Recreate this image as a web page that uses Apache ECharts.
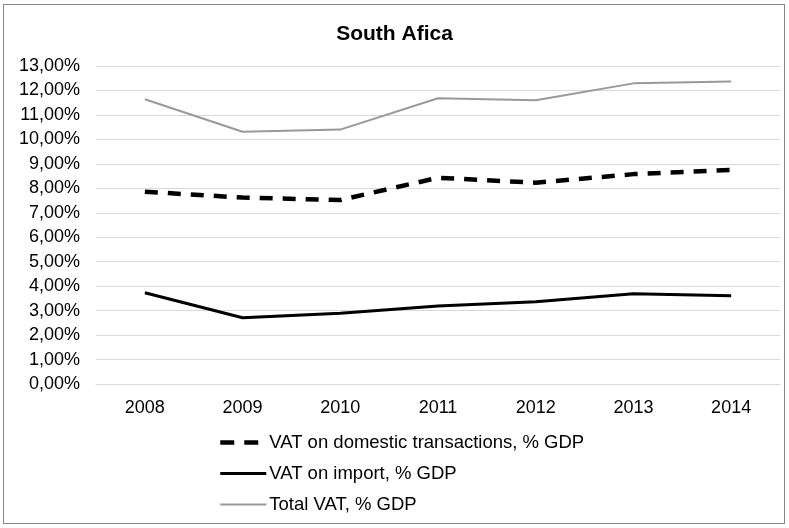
<!DOCTYPE html>
<html>
<head>
<meta charset="utf-8">
<script src="https://cdn.jsdelivr.net/npm/echarts@6/dist/echarts.min.js"></script>
<style>
html,body{margin:0;padding:0;background:#fff;}
#frame{position:absolute;left:3px;top:4px;width:782px;height:520px;border:1px solid #888;box-sizing:border-box;}
#chart{position:absolute;left:0;top:0;width:789px;height:528px;}
</style>
</head>
<body>
<div id="frame"></div>
<div id="chart"></div>
<script>
var years = ['2008','2009','2010','2011','2012','2013','2014'];
var domestic = [7.86, 7.62, 7.52, 8.43, 8.23, 8.58, 8.75];
var imports = [3.73, 2.71, 2.89, 3.19, 3.36, 3.69, 3.61];
var total = [11.64, 10.31, 10.40, 11.68, 11.60, 12.29, 12.37];
var names = ['VAT on domestic transactions, % GDP', 'VAT on import, % GDP', 'Total VAT, % GDP'];

function pct(v){
    return v.toFixed(2).replace('.', ',') + '%';
}

window.onload = function(){
var chart = echarts.init(document.getElementById('chart'));
var option = {
    animation: false,
    textStyle: {fontFamily: 'Liberation Sans, Arial, sans-serif'},
    title: {
        text: 'South Afica',
        left: 'center',
        top: 19,
        textStyle: {fontSize: 21, fontWeight: 'bold', color: '#000', fontFamily: 'Liberation Sans, Arial, sans-serif'}
    },
    grid: {left: 96, right: 9, top: 66, bottom: 144},
    legend: {
        orient: 'vertical',
        left: 213,
        top: 428,
        itemGap: 12,
        itemWidth: 46,
        itemHeight: 18,
        itemStyle: {opacity: 0},
        textStyle: {fontSize: 18.5, color: '#000', padding: [0, 0, 0, -2]},
        data: [
            {name: names[0], lineStyle: {color: '#000', width: 4.5, type: [14, 10]}},
            {name: names[1], lineStyle: {color: '#000', width: 3}},
            {name: names[2], lineStyle: {color: '#999', width: 2}}
        ]
    },
    xAxis: {
        type: 'category',
        data: years,
        axisLine: {lineStyle: {color: '#d9d9d9'}},
        axisTick: {show: false},
        axisLabel: {color: '#000', fontSize: 18, margin: 15}
    },
    yAxis: {
        type: 'value',
        min: 0,
        max: 13,
        interval: 1,
        axisLine: {show: false},
        axisTick: {show: false},
        splitLine: {lineStyle: {color: '#d9d9d9', width: 1}},
        axisLabel: {color: '#000', fontSize: 18, margin: 16, formatter: pct}
    },
    series: [
        {name: names[0], type: 'line', data: domestic, symbol: 'none',
         lineStyle: {color: '#000', width: 4.5, type: [13, 10]}, itemStyle: {color: '#000'}},
        {name: names[1], type: 'line', data: imports, symbol: 'none',
         lineStyle: {color: '#000', width: 3}, itemStyle: {color: '#000'}},
        {name: names[2], type: 'line', data: total, symbol: 'none',
         lineStyle: {color: '#999', width: 2}, itemStyle: {color: '#999'}}
    ]
};
chart.setOption(option);
};
</script>
</body>
</html>
